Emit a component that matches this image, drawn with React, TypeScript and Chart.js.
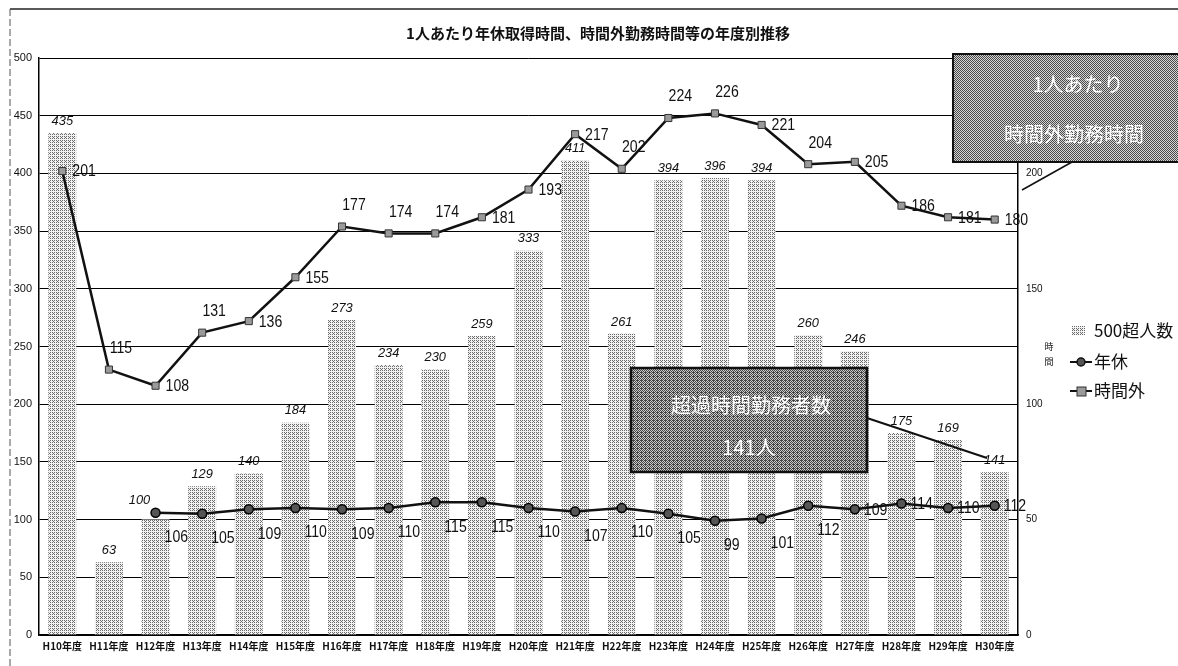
import { useEffect, useRef } from "react";
import { Chart, registerables } from "chart.js";

Chart.register(...registerables);

const categories = [
  "H10年度", "H11年度", "H12年度", "H13年度", "H14年度", "H15年度", "H16年度",
  "H17年度", "H18年度", "H19年度", "H20年度", "H21年度", "H22年度", "H23年度",
  "H24年度", "H25年度", "H26年度", "H27年度", "H28年度", "H29年度", "H30年度",
];
const over500Counts = [435, 63, 100, 129, 140, 184, 273, 234, 230, 259, 333, 411, 261, 394, 396, 394, 260, 246, 175, 169, 141];
const annualLeaveHours = [null, null, 106, 105, 109, 110, 109, 110, 115, 115, 110, 107, 110, 105, 99, 101, 112, 109, 114, 110, 112];
const overtimeHours = [201, 115, 108, 131, 136, 155, 177, 174, 174, 181, 193, 217, 202, 224, 226, 221, 204, 205, 186, 181, 180];

// label placement codes: r = right of point, a = above, b = below-right
const overtimeLabelPlace = ["r", "a", "r", "a", "r", "r", "a", "a", "a", "r", "r", "r", "a", "a", "a", "r", "a", "r", "r", "r", "r"];
const leaveLabelPlace = ["b", "b", "b", "b", "b", "b", "b", "b", "b", "b", "b", "b", "b", "b", "b", "b", "b", "r", "r", "r", "r"];

const titleText = "1人あたり年休取得時間、時間外勤務時間等の年度別推移";
const boxTopLines = ["1人あたり", "時間外勤務時間"];
const boxMidLines = ["超過時間勤務者数", "141人"];
const legendLabels = ["500超人数", "年休", "時間外"];
const rightAxisTitle = ["時", "間"];

const NUM = "'Liberation Sans Narrow', 'Liberation Sans', Arial, sans-serif";
const SANS = "'Liberation Sans', Arial, sans-serif";
const JP = "'Noto Sans CJK JP', 'Noto Sans', sans-serif";

const BAYER = [
  [0, 8, 2, 10],
  [12, 4, 14, 6],
  [3, 11, 1, 9],
  [15, 7, 13, 5],
];

function makePattern(n: number, dark: string, light: string): CanvasPattern | string {
  const c = document.createElement("canvas");
  c.width = 4;
  c.height = 4;
  const g = c.getContext("2d");
  if (!g) return light;
  for (let y = 0; y < 4; y++) {
    for (let x = 0; x < 4; x++) {
      g.fillStyle = BAYER[y][x] < n ? dark : light;
      g.fillRect(x, y, 1, 1);
    }
  }
  const p = g.createPattern(c, "repeat");
  return p || light;
}

function drawText(ctx: CanvasRenderingContext2D, s: string, x: number, y: number, align: CanvasTextAlign, sx = 1) {
  ctx.save();
  ctx.translate(x, y);
  ctx.scale(sx, 1);
  ctx.textAlign = align;
  ctx.textBaseline = "middle";
  ctx.fillText(s, 0, 0);
  ctx.restore();
}

export default function App() {
  const ref = useRef<HTMLCanvasElement | null>(null);

  useEffect(() => {
    document.body.style.margin = "0";
    const canvas = ref.current;
    if (!canvas) return;
    const barPattern = makePattern(5, "#6a6a6a", "#f2f2f2");
    const boxPatternTop = makePattern(8, "#4a4a4a", "#d4d4d4");
    const boxPatternMid = makePattern(9, "#444444", "#cccccc");

    const labelsPlugin = {
      id: "valueLabels",
      afterDatasetsDraw(chart: any) {
        const ctx: CanvasRenderingContext2D = chart.ctx;
        ctx.save();
        ctx.fillStyle = "#111";
        // bar labels
        const barMeta = chart.getDatasetMeta(0);
        ctx.font = `italic 13.5px ${SANS}`;
        barMeta.data.forEach((el: any, i: number) => {
          let dx = 0;
          let dy = -12;
          if (i === 2) {
            dx = -16;
            dy = -19;
          }
          drawText(ctx, String(over500Counts[i]), el.x + dx, el.y + dy, "center", 0.95);
        });
        ctx.font = `16px ${NUM}`;
        // 年休 labels
        const leaveMeta = chart.getDatasetMeta(1);
        leaveMeta.data.forEach((el: any, i: number) => {
          const v = annualLeaveHours[i];
          if (v === null || v === undefined) return;
          if (leaveLabelPlace[i] === "b") drawText(ctx, String(v), el.x + 9, el.y + 25, "left", 0.88);
          else drawText(ctx, String(v), el.x + 9, el.y + 1, "left", 0.88);
        });
        // 時間外 labels
        const otMeta = chart.getDatasetMeta(2);
        otMeta.data.forEach((el: any, i: number) => {
          const v = overtimeHours[i];
          const p = overtimeLabelPlace[i];
          if (p === "a") drawText(ctx, String(v), el.x + 12, el.y - 21, "center", 0.88);
          else drawText(ctx, String(v), el.x + 10, el.y + 1, "left", 0.88);
        });
        ctx.restore();
      },
    };

    const decorPlugin = {
      id: "decor",
      beforeDraw(chart: any) {
        const ctx: CanvasRenderingContext2D = chart.ctx;
        ctx.save();
        ctx.fillStyle = "#ffffff";
        ctx.fillRect(0, 0, chart.width, chart.height);
        ctx.restore();
      },
      afterDraw(chart: any) {
        const ctx: CanvasRenderingContext2D = chart.ctx;
        ctx.save();
        // frame lines
        ctx.strokeStyle = "#222";
        ctx.lineWidth = 1.5;
        ctx.beginPath();
        ctx.moveTo(10, 9);
        ctx.lineTo(chart.width, 9);
        ctx.stroke();
        ctx.setLineDash([7, 3]);
        ctx.lineWidth = 1;
        ctx.strokeStyle = "#555";
        ctx.beginPath();
        ctx.moveTo(10, 9);
        ctx.lineTo(10, chart.height);
        ctx.stroke();
        ctx.setLineDash([]);

        // title
        ctx.fillStyle = "#111";
        ctx.font = `bold 15px ${JP}`;
        drawText(ctx, titleText, 598, 33, "center");

        // leader lines
        ctx.strokeStyle = "#111";
        ctx.lineWidth = 2;
        ctx.beginPath();
        ctx.moveTo(867, 418);
        ctx.lineTo(987, 458);
        ctx.stroke();
        ctx.lineWidth = 1.5;
        ctx.beginPath();
        ctx.moveTo(1072, 162);
        ctx.lineTo(1022, 190);
        ctx.stroke();

        // top-right box
        ctx.fillStyle = boxPatternTop as any;
        ctx.fillRect(953, 54, chart.width - 953 + 2, 108);
        ctx.strokeStyle = "#111";
        ctx.lineWidth = 2;
        ctx.strokeRect(953, 54, chart.width - 953 + 4, 108);
        ctx.fillStyle = "#ffffff";
        ctx.font = `20px ${JP}`;
        drawText(ctx, boxTopLines[0], 1078, 84, "center");
        drawText(ctx, boxTopLines[1], 1074, 134, "center");

        // middle box
        ctx.fillStyle = boxPatternMid as any;
        ctx.fillRect(631, 368, 236, 104);
        ctx.strokeStyle = "#111";
        ctx.lineWidth = 2.5;
        ctx.strokeRect(631, 368, 236, 104);
        ctx.fillStyle = "#ffffff";
        ctx.font = `20px ${JP}`;
        drawText(ctx, boxMidLines[0], 751, 405, "center");
        drawText(ctx, boxMidLines[1], 749, 447, "center");

        // right axis title
        ctx.fillStyle = "#111";
        ctx.font = `9px ${JP}`;
        drawText(ctx, rightAxisTitle[0], 1049, 347, "center");
        drawText(ctx, rightAxisTitle[1], 1049, 362, "center");

        // legend
        ctx.fillStyle = barPattern as any;
        ctx.fillRect(1072, 326, 13, 9);
        ctx.fillStyle = "#111";
        ctx.font = `17px ${JP}`;
        drawText(ctx, legendLabels[0], 1094, 331, "left");
        ctx.strokeStyle = "#111";
        ctx.lineWidth = 2;
        ctx.beginPath();
        ctx.moveTo(1070, 362);
        ctx.lineTo(1092, 362);
        ctx.stroke();
        ctx.beginPath();
        ctx.arc(1081, 362, 4, 0, Math.PI * 2);
        ctx.fillStyle = "#555";
        ctx.fill();
        ctx.lineWidth = 1.5;
        ctx.stroke();
        ctx.fillStyle = "#111";
        drawText(ctx, legendLabels[1], 1094, 362, "left");
        ctx.lineWidth = 2;
        ctx.beginPath();
        ctx.moveTo(1070, 391);
        ctx.lineTo(1092, 391);
        ctx.stroke();
        ctx.fillStyle = "#9a9a9a";
        ctx.fillRect(1077, 387, 9, 9);
        ctx.lineWidth = 1;
        ctx.strokeStyle = "#333";
        ctx.strokeRect(1077, 387, 9, 9);
        ctx.fillStyle = "#111";
        drawText(ctx, legendLabels[2], 1094, 391, "left");
        ctx.restore();
      },
    };

    const chart = new Chart(canvas, {
      type: "bar",
      data: {
        labels: categories,
        datasets: [
          {
            type: "bar",
            label: legendLabels[0],
            data: over500Counts,
            yAxisID: "y",
            backgroundColor: barPattern as any,
            borderWidth: 0,
            barPercentage: 0.6,
            categoryPercentage: 1,
            order: 3,
          },
          {
            type: "line",
            label: legendLabels[1],
            data: annualLeaveHours,
            yAxisID: "y",
            borderColor: "#111",
            borderWidth: 2.5,
            pointStyle: "circle",
            pointRadius: 4.5,
            pointBackgroundColor: "#555",
            pointBorderColor: "#000",
            pointBorderWidth: 1.5,
            tension: 0,
            order: 2,
          },
          {
            type: "line",
            label: legendLabels[2],
            data: overtimeHours,
            yAxisID: "y1",
            borderColor: "#111",
            borderWidth: 2.5,
            pointStyle: "rect",
            pointRadius: 5,
            pointBackgroundColor: "#9a9a9a",
            pointBorderColor: "#333",
            pointBorderWidth: 1,
            tension: 0,
            order: 1,
          },
        ] as any,
      },
      options: {
        responsive: false,
        animation: false,
        devicePixelRatio: 1,
        events: [],
        layout: { padding: { top: 58, left: 0, right: 0, bottom: 0 } },
        plugins: {
          legend: { display: false },
          title: { display: false },
          tooltip: { enabled: false },
        },
        scales: {
          x: {
            grid: { display: false, drawTicks: false },
            border: { display: true, color: "#000", width: 1.5 },
            ticks: {
              font: { family: JP, size: 10, weight: "bold" },
              color: "#111",
              padding: 5,
              maxRotation: 0,
              autoSkip: false,
            },
            afterFit: (s: any) => {
              s.height = 31;
            },
          },
          y: {
            position: "left",
            min: 0,
            max: 500,
            ticks: { stepSize: 50, font: { family: NUM, size: 11 }, color: "#111", padding: 7 },
            grid: { color: "#000", lineWidth: 1, drawTicks: false },
            border: { display: true, color: "#000", width: 1.5 },
            afterFit: (s: any) => {
              s.width = 39;
            },
          },
          y1: {
            position: "right",
            min: 0,
            max: 250,
            ticks: { stepSize: 50, font: { family: NUM, size: 10 }, color: "#111", padding: 8 },
            grid: { display: false, drawTicks: false },
            border: { display: true, color: "#000", width: 1.5 },
            afterFit: (s: any) => {
              s.width = 160;
            },
          },
        },
      } as any,
      plugins: [labelsPlugin, decorPlugin],
    });
    return () => {
      chart.destroy();
    };
  }, []);

  return (
    <div style={{ position: "absolute", left: 0, top: 0, width: 1178, height: 666 }}>
      <canvas ref={ref} width={1178} height={666} style={{ width: 1178, height: 666, display: "block" }} />
    </div>
  );
}
